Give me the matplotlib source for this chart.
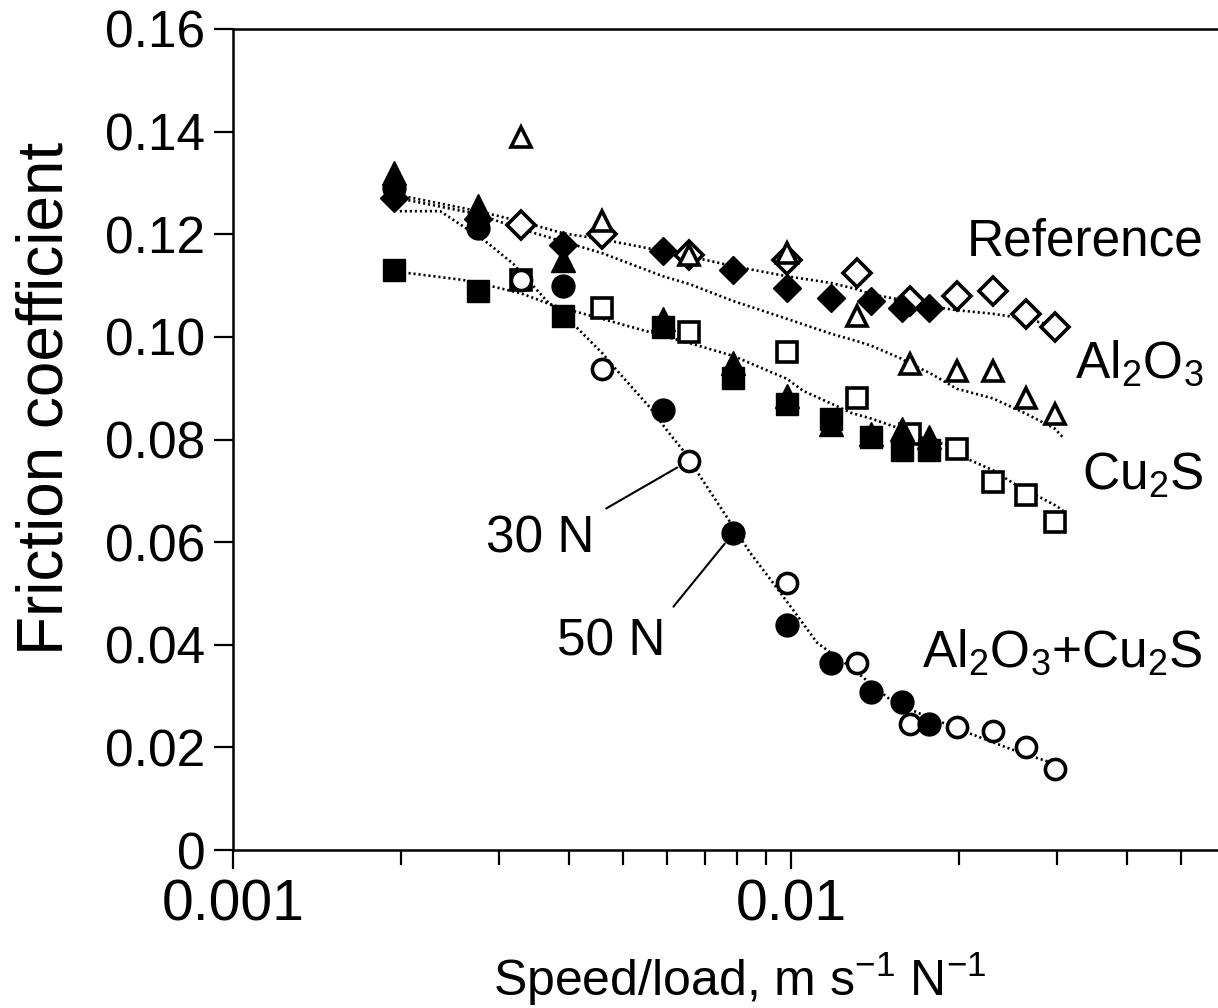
import matplotlib
matplotlib.use('Agg')
import matplotlib.pyplot as plt
from matplotlib import font_manager
from matplotlib.ticker import LogLocator, NullFormatter

# speed/load (m s-1 N-1): filled symbols = 50 N runs, open symbols = 30 N runs
x_50n = [0.00194, 0.00275, 0.00390, 0.00590, 0.00787, 0.00984, 0.0118, 0.0139, 0.0158, 0.0177]
x_30n = [0.00328, 0.00459, 0.00657, 0.00984, 0.0131, 0.0163, 0.0198, 0.0230, 0.0264, 0.0297]

# friction coefficient
ref_50n = [0.127, 0.123, 0.118, 0.1167, 0.113, 0.1095, 0.1076, 0.107, 0.1056, 0.1056]
ref_30n = [0.1219, 0.120, 0.116, 0.115, 0.1124, 0.107, 0.108, 0.109, 0.1045, 0.102]
al_50n = [0.132, 0.1255, 0.115, 0.1035, 0.095, 0.0885, 0.083, 0.081, 0.0821, 0.0804]
al_30n = [0.139, 0.1225, 0.116, 0.1163, 0.104, 0.0948, 0.0934, 0.0934, 0.088, 0.085]
cu_50n = [0.113, 0.109, 0.104, 0.102, 0.092, 0.087, 0.0839, 0.0804, 0.0779, 0.0779]
cu_30n = [0.111, 0.1056, 0.101, 0.097, 0.088, 0.081, 0.0782, 0.0717, 0.0691, 0.0639]
mix_50n = [0.129, 0.1213, 0.110, 0.0858, 0.0617, 0.0439, 0.0365, 0.0307, 0.0289, 0.0245]
mix_30n = [0.111, 0.0938, 0.0759, 0.052, 0.0365, 0.0245, 0.0239, 0.0231, 0.020, 0.0157]

# dotted trend lines
ref_fit_x = [0.00194, 0.00275, 0.00328, 0.00390, 0.00459, 0.00590, 0.00657, 0.00787, 0.00984, 0.0118,
             0.0131, 0.0139, 0.0158, 0.0163, 0.0177, 0.0198, 0.0230, 0.0264, 0.0297, 0.0310]
ref_fit_y = [0.1278, 0.1245, 0.1225, 0.1202, 0.119, 0.1167, 0.1157, 0.1138, 0.1118, 0.1105,
             0.1093, 0.1083, 0.1072, 0.1066, 0.106, 0.1052, 0.1045, 0.1035, 0.1021, 0.1012]
al_fit_x = [0.00194, 0.00275, 0.00328, 0.00390, 0.00459, 0.00590, 0.00657, 0.00787, 0.00984, 0.0118,
            0.0131, 0.0139, 0.0158, 0.0163, 0.0177, 0.0198, 0.0230, 0.0264, 0.0297, 0.0307]
al_fit_y = [0.1272, 0.1239, 0.121, 0.1186, 0.1163, 0.1118, 0.1103, 0.107, 0.1035, 0.1006,
            0.0992, 0.0983, 0.0957, 0.0948, 0.093, 0.0899, 0.088, 0.085, 0.0821, 0.0804]
cu_fit_x = [0.00194, 0.00258, 0.00275, 0.00328, 0.00365, 0.00390, 0.00459, 0.00590, 0.00657, 0.00787,
            0.00984, 0.0105, 0.0118, 0.0128, 0.0139, 0.0155, 0.0177, 0.0198, 0.0207, 0.0230,
            0.0250, 0.0297, 0.0307]
cu_fit_y = [0.1128, 0.1111, 0.1105, 0.1085, 0.1066, 0.1056, 0.1035, 0.1002, 0.0988, 0.0963,
            0.0918, 0.0895, 0.087, 0.0852, 0.0841, 0.0823, 0.0798, 0.0785, 0.0762, 0.074,
            0.0715, 0.0672, 0.0662]
mix_fit_x = [0.00199, 0.00235, 0.00258, 0.00286, 0.00318, 0.00365, 0.00414, 0.00460, 0.00488, 0.00559,
             0.00600, 0.00640, 0.00695, 0.00768, 0.00845, 0.00929, 0.01008, 0.01113, 0.01276, 0.01505,
             0.01682, 0.02068, 0.02541, 0.02912, 0.0300]
mix_fit_y = [0.1245, 0.1245, 0.1216, 0.1183, 0.1142, 0.107, 0.1017, 0.0967, 0.0934, 0.0862,
             0.0817, 0.0779, 0.072, 0.0648, 0.0579, 0.052, 0.0468, 0.0404, 0.0357, 0.0293,
             0.0268, 0.0229, 0.0192, 0.0171, 0.0163]

x_ticks = [0.001, 0.01]
x_tick_labels = ['0.001', '0.01']
y_ticks = [0, 0.02, 0.04, 0.06, 0.08, 0.10, 0.12, 0.14, 0.16]
y_tick_labels = ['0', '0.02', '0.04', '0.06', '0.08', '0.10', '0.12', '0.14', '0.16']


def setup():
    plt.rcParams['font.family'] = ['Liberation Sans', 'DejaVu Sans']
    plt.rcParams['mathtext.fontset'] = 'custom'
    plt.rcParams['mathtext.rm'] = 'Liberation Sans'
    plt.rcParams['mathtext.it'] = 'Liberation Sans:italic'
    names = {f.name for f in font_manager.fontManager.ttflist}
    return 'Liberation Sans Narrow' if 'Liberation Sans Narrow' in names else 'Liberation Sans'


def plot(narrow):
    fig = plt.figure(figsize=(12.18, 10.08), dpi=100)
    ax = fig.add_axes([233 / 1218, 158 / 1008, 985 / 1218, 821 / 1008])
    ax.set_xscale('log')

    dot = (0, (0.8, 1.1))
    for fx, fy in [(ref_fit_x, ref_fit_y), (al_fit_x, al_fit_y), (cu_fit_x, cu_fit_y), (mix_fit_x, mix_fit_y)]:
        ax.plot(fx, fy, color='black', lw=1.9, ls=dot)

    open_kw = dict(mfc='white', mec='black', mew=2.6, ls='none')
    full_kw = dict(mfc='black', mec='black', mew=1.0, ls='none')
    ax.plot(x_30n, ref_30n, marker='D', ms=14, **open_kw)
    ax.plot(x_50n, ref_50n, marker='D', ms=14.5, **full_kw)
    ax.plot(x_30n, cu_30n, marker='s', ms=15, **open_kw)
    ax.plot(x_50n, cu_50n, marker='s', ms=16.5, **full_kw)
    ax.plot(x_30n, al_30n, marker='^', ms=15, **open_kw)
    ax.plot(x_50n, al_50n, marker='^', ms=17, **full_kw)
    ax.plot(x_30n, mix_30n, marker='o', ms=14.5, **open_kw)
    ax.plot(x_50n, mix_50n, marker='o', ms=16.5, **full_kw)

    ax.set_xlim(0.001, 0.0582)
    ax.set_ylim(0, 0.16)
    ax.set_xticks(x_ticks, x_tick_labels)
    ax.xaxis.set_minor_locator(LogLocator(base=10, subs=range(2, 10)))
    ax.xaxis.set_minor_formatter(NullFormatter())
    ax.set_yticks(y_ticks, y_tick_labels)

    ax.spines['right'].set_visible(False)
    for s in ['left', 'bottom', 'top']:
        ax.spines[s].set_linewidth(1.8)
    ax.tick_params(which='major', direction='out', length=13.5, width=1.6, color='black')
    ax.tick_params(axis='x', which='minor', direction='out', length=10.5, width=1.6)
    ax.tick_params(axis='y', labelsize=37, pad=6.5)
    ax.tick_params(axis='x', labelsize=41, pad=7)
    for lab in ax.get_xticklabels():
        lab.set_family(narrow)

    ax.set_xlabel(r'Speed/load, m s$^{-1}$ N$^{-1}$', fontsize=36, family=narrow)
    ax.xaxis.set_label_coords(0.515, -0.122)
    ax.set_ylabel('Friction coefficient', fontsize=46)
    ax.yaxis.set_label_coords(-0.160, 0.55)

    ax.text(0.985, 0.7247, 'Reference', transform=ax.transAxes, ha='right', va='baseline', fontsize=37)
    ax.text(0.985, 0.575, r'Al$_2$O$_3$', transform=ax.transAxes, ha='right', va='baseline', fontsize=37)
    ax.text(0.985, 0.4385, r'Cu$_2$S', transform=ax.transAxes, ha='right', va='baseline', fontsize=37)
    ax.text(0.985, 0.2229, r'Al$_2$O$_3$+Cu$_2$S', transform=ax.transAxes, ha='right', va='baseline', fontsize=37)

    ax.annotate('30 N', xy=(x_30n[2], mix_30n[2]), xytext=(0.3675, 0.3618), textcoords='axes fraction',
                ha='right', va='baseline', fontsize=37,
                arrowprops=dict(arrowstyle='-', color='black', lw=1.5, relpos=(1.0, 1.0), shrinkA=7, shrinkB=10))
    ax.annotate('50 N', xy=(x_50n[4], mix_50n[4]), xytext=(0.4386, 0.2375), textcoords='axes fraction',
                ha='right', va='baseline', fontsize=37,
                arrowprops=dict(arrowstyle='-', color='black', lw=1.5, relpos=(1.0, 1.0), shrinkA=7, shrinkB=9.5))

    fig.savefig('out.png', dpi=100)


narrow = setup()
plot(narrow)
